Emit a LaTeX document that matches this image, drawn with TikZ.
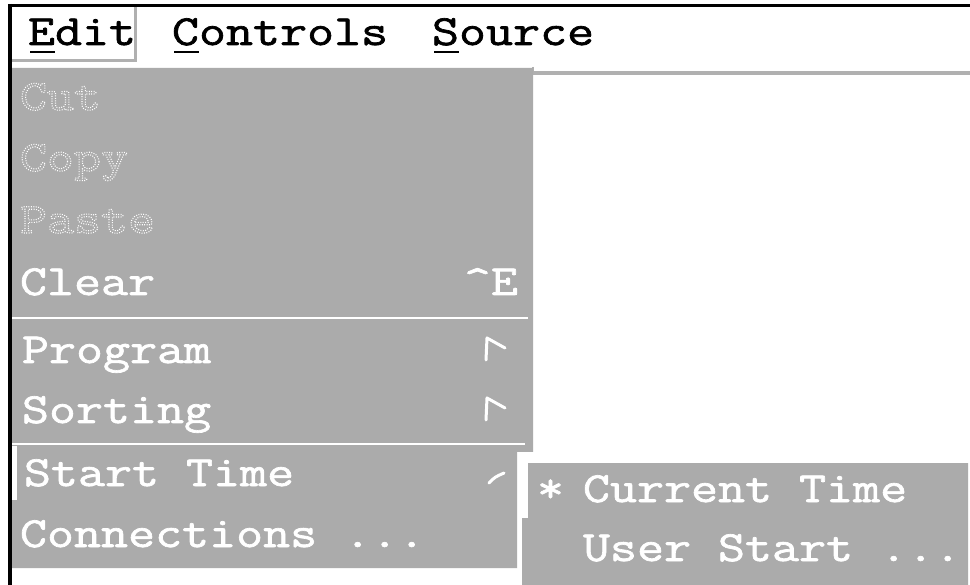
\documentclass[tikz,border=0pt]{standalone}
\usepackage{fontspec}
\newfontfamily\cour[FakeBold=1.6,FakeStretch=1.22]{Latin Modern Mono}
\newfontfamily\courdim[FakeStretch=1.22]{Latin Modern Mono}
\definecolor{menugray}{HTML}{ABABAB}
\definecolor{shadowgray}{HTML}{B0B0B0}
\newcommand\dimtxt[1]{\special{pdf:literal direct 1 Tr [1 1.4] 0 d 1.1 w}#1\special{pdf:literal direct 0 Tr [] 0 d}}
\begin{document}
\begin{tikzpicture}[x=1pt,y=-1pt,
  every node/.style={inner sep=0pt, outer sep=0pt, anchor=base west, font=\cour\fontsize{43}{43}\selectfont},
  bartext/.style={text=black},
  itemtext/.style={text=white},
  dimtext/.style={text=white, font=\courdim\fontsize{43}{43}\selectfont},
  sepline/.style={draw=white, line width=2.5pt},
  flagline/.style={draw=white, line width=3pt, line cap=round, line join=round},
  uline/.style={draw=black, line width=2pt},
]
\useasboundingbox (0,0) rectangle (970,585);
\fill[white] (0,0) rectangle (970,585);
% window frame
\draw[black, line width=3.5pt] (8,5.5) -- (970,5.5);
\draw[black, line width=4pt] (10,4) -- (10,585);
% Edit button shadow
\draw[shadowgray, line width=3pt] (135.5,7) -- (135.5,62);
\draw[shadowgray, line width=3pt] (12,60.5) -- (137,60.5);
% menu bar bottom line
\draw[shadowgray, line width=4pt] (532,73) -- (970,73);
\draw[shadowgray, line width=2pt] (533,67) -- (533,73);
% main menu panel
\fill[menugray] (12,68) -- (533,68) -- (533,452) -- (517,452) -- (517,568) -- (12,568) -- (12,500) -- (17,500) -- (17,446) -- (12,446) -- cycle;
\draw[sepline] (12,318) -- (528,318);
\draw[sepline] (12,444) -- (525,444);
% submenu panel
\fill[menugray] (528,463) -- (968,463) -- (968,585) -- (522,585) -- (522,518) -- (528,518) -- cycle;
% disabled items
\node[dimtext] (cut) at (20,110) {\dimtxt{Cut}};
\node[dimtext] (copy) at (20,171) {\dimtxt{Copy}};
\node[dimtext] (paste) at (20,233) {\dimtxt{Paste}};
% menu bar
\node[bartext] (edit) at (28,45) {Edit};
\node[bartext] (controls) at (172,45) {Controls};
\node[bartext] (source) at (432,45) {Source};
\draw[uline] ([shift={(2,7)}]edit.base west) -- ++(25,0);
\draw[uline] ([shift={(2,7)}]controls.base west) -- ++(25,0);
\draw[uline] ([shift={(2,7)}]source.base west) -- ++(25,0);
% items
\node[itemtext] (clear) at (20,295) {Clear};
\node[itemtext, anchor=base east] (clearkey) at (518,295) {\textasciicircum E};
\node[itemtext] (program) at (22,363) {Program};
\node[itemtext] (sorting) at (22,423) {Sorting};
\node[itemtext] (start) at (24,486) {Start Time};
\node[itemtext] (conn) at (20,547) {Connections ...};
\node[itemtext] (star) at (537,502) {*};
\node[itemtext] (current) at (583,502) {Current Time};
\node[itemtext] (user) at (583,561) {User Start ...};
% cascade marks
\draw[flagline] (505,348) -- (487,338) -- (486,360);
\draw[flagline] (505,408) -- (487,398) -- (486,420);
\draw[flagline] (489,483) .. controls (495,477) .. (504,473);
\end{tikzpicture}
\end{document}
